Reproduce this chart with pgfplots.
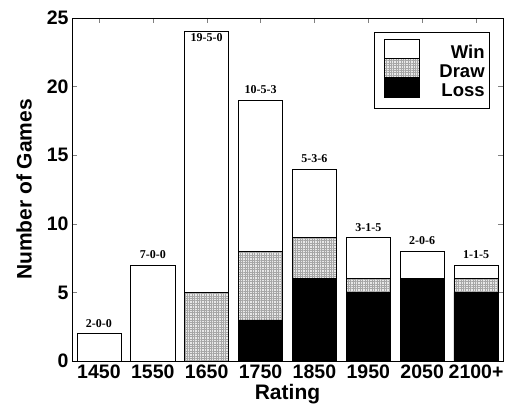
\documentclass[border=0pt]{standalone}
\usepackage{pgfplots}
\pgfplotsset{compat=1.18}
\usepackage{pgfplotstable}
\usetikzlibrary{patterns.meta}
\usepackage{fontspec}
\setmainfont{Liberation Sans}
\newfontfamily\tnr{Liberation Serif}
\tikzset{lab/.style={font=\tnr\fontsize{12}{13}\selectfont\bfseries, inner sep=0pt}}
\pgfplotstableread{
x loss draw win
0 0 0 2
1 0 0 7
2 0 5 19
3 3 5 11
4 6 3 5
5 5 1 3
6 6 0 2
7 5 1 1
}\datatable
\begin{document}
\begin{tikzpicture}
\useasboundingbox (-72pt,-50pt) rectangle (443pt,361pt);
\begin{axis}[
  at={(0pt,0pt)}, anchor=south west,
  scale only axis, width=431pt, height=343pt,
  ybar stacked, bar width=0.82,
  xmin=-0.5, xmax=7.5, ymin=0, ymax=25,
  xtick=data,
  xticklabels={1450,1550,1650,1750,1850,1950,2050,2100+},
  ytick={0,5,10,15,20,25},
  tick align=inside, major tick length=5pt,
  ticklabel style={font=\fontsize{19.5}{21}\selectfont\bfseries},
  /pgf/number format/assume math mode=true,
  xlabel={Rating}, ylabel={Number of Games},
  label style={font=\fontsize{21}{22}\selectfont\bfseries},
  xlabel style={yshift=1pt},
  ylabel style={yshift=8pt},
  axis line style={line width=0.8pt},
  legend cell align=right,
  legend style={at={(0.97,0.959)}, anchor=north east, draw=black, line width=0.8pt,
    inner xsep=5pt, inner ysep=7pt, row sep=-5pt,
    /tikz/every odd column/.append style={column sep=20pt},
    nodes={font=\fontsize{18.5}{19}\selectfont\bfseries, inner sep=0pt, outer sep=0pt, text height=14pt, text depth=5.3pt}},
  legend image code/.code={\path (-4pt,0pt); \draw[#1, line width=0.6pt] (0pt,-5.3pt) rectangle (35pt,14pt);},
  reverse legend,
]
\addplot[fill=black, draw=black, line width=0.6pt] table[x=x, y=loss] {\datatable};
\addplot[fill=gray!18, draw=black, line width=0.6pt,
  postaction={pattern={Hatch[angle=0, distance=2.4pt, line width=0.4pt]}, pattern color=gray!70}]
  table[x=x, y=draw] {\datatable};
\addplot[fill=white, draw=black, line width=0.6pt] table[x=x, y=win] {\datatable};
\legend{Loss, Draw, Win}
\coordinate (l0) at (axis cs:0,2);
\coordinate (l1) at (axis cs:1,7);
\coordinate (l2) at (axis cs:2,24);
\coordinate (l3) at (axis cs:3,19);
\coordinate (l4) at (axis cs:4,14);
\coordinate (l5) at (axis cs:5,9);
\coordinate (l6) at (axis cs:6,8);
\coordinate (l7) at (axis cs:7,7);
\end{axis}
\node[lab, anchor=south, yshift=6pt] at (l0) {2-0-0};
\node[lab, anchor=south, yshift=6pt] at (l1) {7-0-0};
\node[lab, anchor=north, yshift=-2pt] at (l2) {19-5-0};
\node[lab, anchor=south, yshift=6pt] at (l3) {10-5-3};
\node[lab, anchor=south, yshift=6pt] at (l4) {5-3-6};
\node[lab, anchor=south, yshift=6pt] at (l5) {3-1-5};
\node[lab, anchor=south, yshift=6pt] at (l6) {2-0-6};
\node[lab, anchor=south, yshift=6pt] at (l7) {1-1-5};
\end{tikzpicture}
\end{document}
